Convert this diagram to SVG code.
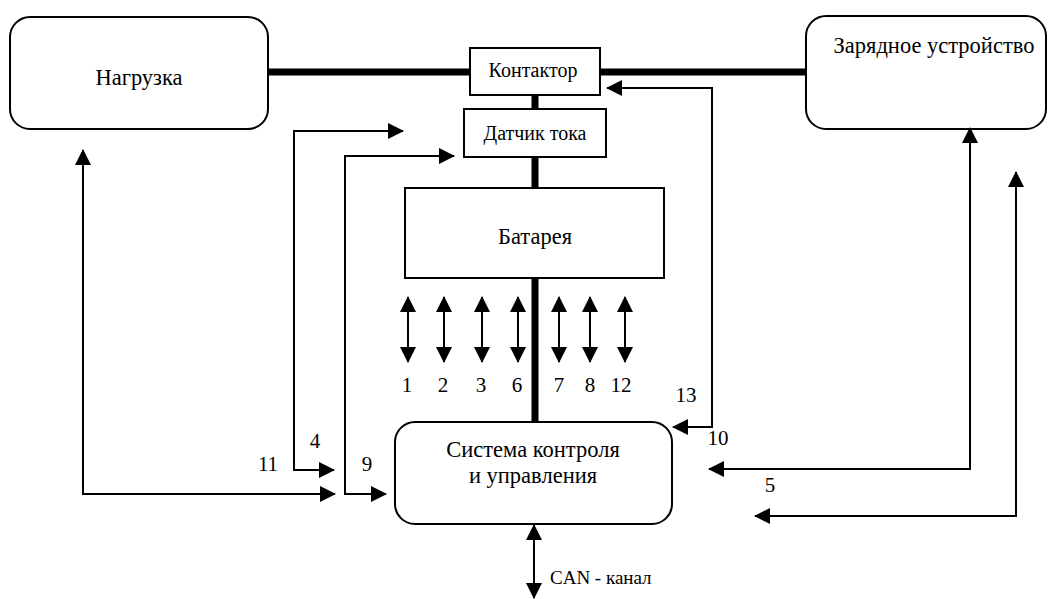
<svg xmlns="http://www.w3.org/2000/svg" width="1052" height="599" viewBox="0 0 1052 599" font-family="'Liberation Serif', 'DejaVu Serif', serif">
<style>
text{font-family:'Liberation Serif','DejaVu Serif',serif;font-size:22.5px;fill:#000}
.sm{font-size:20px}
.num{font-size:21px}
.can{font-size:19px}
.box{fill:#fff;stroke:#000;stroke-width:2}
.bus{stroke:#000;stroke-width:7;fill:none}
.ln{stroke:#000;stroke-width:2;fill:none}
</style>
<defs>
<marker id="ah" viewBox="0 0 16 16" refX="15" refY="8" markerWidth="16" markerHeight="16" markerUnits="userSpaceOnUse" orient="auto-start-reverse">
<path d="M0,0 L16,8 L0,16 Z" fill="#000"/>
</marker>
</defs>
<g id="bus">
<line class="bus" x1="268" y1="72" x2="806" y2="72"/>
<line class="bus" x1="535" y1="95" x2="535" y2="422"/>
</g>
<g id="load">
<rect class="box" x="10" y="17" width="258" height="112" rx="20"/>
<text x="139" y="85" text-anchor="middle">Нагрузка</text>
</g>
<g id="charger">
<rect class="box" x="806" y="16" width="240" height="113" rx="20"/>
<text x="934" y="53" text-anchor="middle">Зарядное устройство</text>
</g>
<g id="contactor">
<rect class="box" x="470" y="48" width="130" height="47"/>
<text class="sm" x="533" y="77" text-anchor="middle">Контактор</text>
</g>
<g id="sensor">
<rect class="box" x="464" y="109" width="142" height="48"/>
<text class="sm" x="535" y="140" text-anchor="middle">Датчик тока</text>
</g>
<g id="battery">
<rect class="box" x="405" y="188" width="259" height="90"/>
<text x="535" y="244" text-anchor="middle">Батарея</text>
</g>
<g id="bms">
<rect class="box" x="395" y="422" width="277" height="102" rx="20"/>
<text x="533" y="457" text-anchor="middle">Система контроля</text>
<text x="533" y="483" text-anchor="middle">и управления</text>
</g>
<g id="connectors">
<line class="ln" x1="408" y1="297" x2="408" y2="362" marker-start="url(#ah)" marker-end="url(#ah)"/>
<line class="ln" x1="444" y1="297" x2="444" y2="362" marker-start="url(#ah)" marker-end="url(#ah)"/>
<line class="ln" x1="482" y1="297" x2="482" y2="362" marker-start="url(#ah)" marker-end="url(#ah)"/>
<line class="ln" x1="518" y1="297" x2="518" y2="362" marker-start="url(#ah)" marker-end="url(#ah)"/>
<line class="ln" x1="559" y1="297" x2="559" y2="362" marker-start="url(#ah)" marker-end="url(#ah)"/>
<line class="ln" x1="590" y1="297" x2="590" y2="362" marker-start="url(#ah)" marker-end="url(#ah)"/>
<line class="ln" x1="625" y1="297" x2="625" y2="362" marker-start="url(#ah)" marker-end="url(#ah)"/>
<polyline class="ln" points="403,131 294,131 294,470 334,470" marker-start="url(#ah)" marker-end="url(#ah)"/>
<polyline class="ln" points="454,156 345,156 345,494 386,494" marker-start="url(#ah)" marker-end="url(#ah)"/>
<polyline class="ln" points="83,150 83,494 335,494" marker-start="url(#ah)" marker-end="url(#ah)"/>
<polyline class="ln" points="607,88 712,88 712,427 673,427" marker-start="url(#ah)" marker-end="url(#ah)"/>
<polyline class="ln" points="970,128 970,469 709,469" marker-start="url(#ah)" marker-end="url(#ah)"/>
<polyline class="ln" points="1016,172 1016,516 755,516" marker-start="url(#ah)" marker-end="url(#ah)"/>
<line class="ln" x1="534" y1="525" x2="534" y2="598" marker-start="url(#ah)" marker-end="url(#ah)"/>
</g>
<g id="labels">
<text class="num" x="407" y="392" text-anchor="middle">1</text>
<text class="num" x="443" y="392" text-anchor="middle">2</text>
<text class="num" x="481" y="392" text-anchor="middle">3</text>
<text class="num" x="517" y="392" text-anchor="middle">6</text>
<text class="num" x="559" y="392" text-anchor="middle">7</text>
<text class="num" x="590" y="392" text-anchor="middle">8</text>
<text class="num" x="621" y="392" text-anchor="middle">12</text>
<text class="num" x="686" y="402" text-anchor="middle">13</text>
<text class="num" x="718" y="445" text-anchor="middle">10</text>
<text class="num" x="770" y="492" text-anchor="middle">5</text>
<text class="num" x="315" y="448" text-anchor="middle">4</text>
<text class="num" x="268" y="471" text-anchor="middle">11</text>
<text class="num" x="367" y="471" text-anchor="middle">9</text>
<text class="can" x="550" y="584">CAN - канал</text>
</g>
</svg>
